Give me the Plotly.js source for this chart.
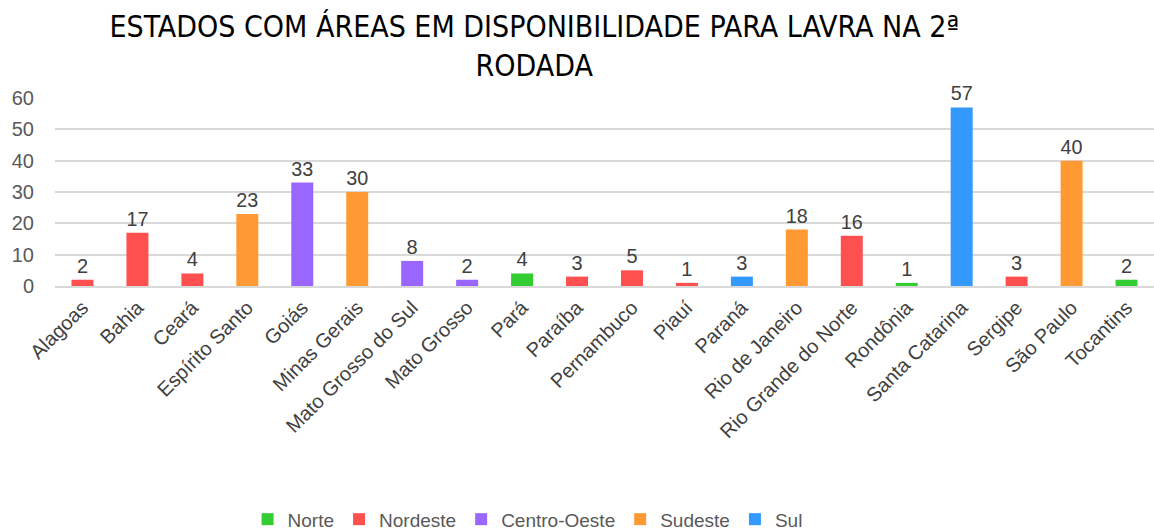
<!DOCTYPE html>
<html><head><meta charset="utf-8">
<script src="https://cdn.plot.ly/plotly-3.0.1.min.js"></script>
<style>html,body{margin:0;padding:0;background:#fff}#chart{width:1154px;height:531px}</style>
</head><body><div id="chart"></div>
<script>
const categories = ["Alagoas","Bahia","Ceará","Espírito Santo","Goiás","Minas Gerais","Mato Grosso do Sul","Mato Grosso","Pará","Paraíba","Pernambuco","Piauí","Paraná","Rio de Janeiro","Rio Grande do Norte","Rondônia","Santa Catarina","Sergipe","São Paulo","Tocantins"];
const values = [2,17,4,23,33,30,8,2,4,3,5,1,3,18,16,1,57,3,40,2];
const regionOf = ["Nordeste","Nordeste","Nordeste","Sudeste","Centro-Oeste","Sudeste","Centro-Oeste","Centro-Oeste","Norte","Nordeste","Nordeste","Nordeste","Sul","Sudeste","Nordeste","Norte","Sul","Nordeste","Sudeste","Norte"];
const regions = ["Norte","Nordeste","Centro-Oeste","Sudeste","Sul"];
const regionColors = ["#33CC33","#FF5050","#9966FF","#FF9933","#3399FF"];

const traces = regions.map((r, k) => {
  const xs = [], ys = [];
  categories.forEach((c, i) => { if (regionOf[i] === r) { xs.push(c); ys.push(values[i]); } });
  return {
    type: "bar", name: r, x: xs, y: ys,
    marker: {color: regionColors[k]},
    width: 0.4,
    text: ys.map(String), textposition: "outside", cliponaxis: false,
    textfont: {family: "Liberation Sans, Arial, sans-serif", size: 20, color: "#404040"},
    hoverinfo: "x+y"
  };
});

const layout = {
  width: 1154, height: 531,
  margin: {l: 55, r: 0, t: 98, b: 245},
  paper_bgcolor: "#fff", plot_bgcolor: "#fff",
  barmode: "relative",
  title: {
    text: "ESTADOS COM ÁREAS EM DISPONIBILIDADE PARA LAVRA NA 2ª<br>RODADA",
    font: {family: "Liberation Sans Narrow, DejaVu Sans Condensed, sans-serif", size: 30, color: "#000"},
    x: 0.463, xanchor: "center", yref: "container", y: 0.931, yanchor: "middle"
  },
  xaxis: {
    type: "category", categoryorder: "array", categoryarray: categories,
    range: [-0.5, 19.5], automargin: false,
    tickangle: -45, showgrid: false, zeroline: false,
    showline: true, linecolor: "#d9d9d9", linewidth: 2,
    ticks: "", tickfont: {family: "Liberation Sans, Arial, sans-serif", size: 20, color: "#404040"}
  },
  yaxis: {
    range: [0, 60], dtick: 10, showgrid: true, gridcolor: "#d9d9d9", gridwidth: 2,
    zeroline: false, showline: false, ticks: "", ticklabelstandoff: 20, automargin: false,
    tickfont: {family: "Liberation Sans, Arial, sans-serif", size: 20, color: "#595959"}
  },
  showlegend: true,
  legend: {
    orientation: "h", x: 0.43, xanchor: "center", xref: "paper",
    yref: "container", y: 0.022, yanchor: "middle",
    font: {family: "Liberation Sans, Arial, sans-serif", size: 19, color: "#595959"},
    traceorder: "normal", itemwidth: 30
  }
};
Plotly.newPlot("chart", traces, layout, {displayModeBar: false});
</script></body></html>
